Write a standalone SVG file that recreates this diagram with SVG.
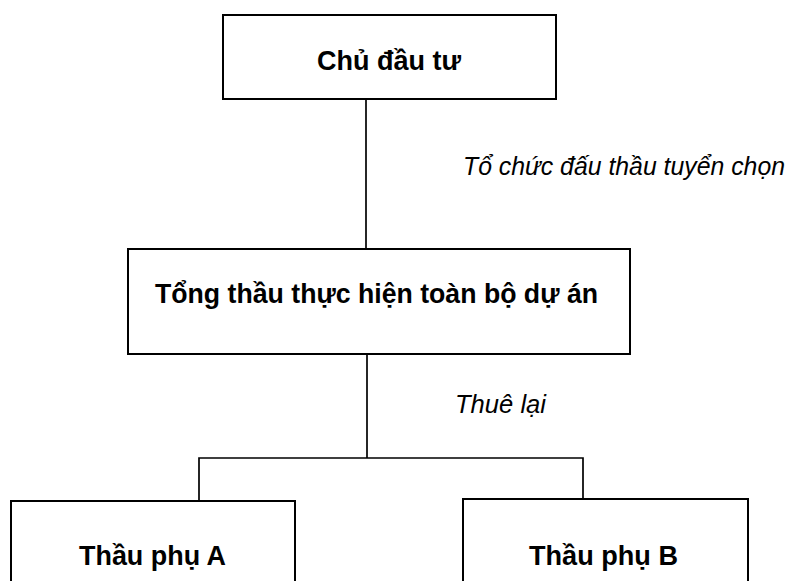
<svg xmlns="http://www.w3.org/2000/svg" width="803" height="581" viewBox="0 0 803 581">
  <style>
    .box { fill: #ffffff; stroke: #000000; stroke-width: 2; }
    .name { font-family: "Liberation Sans", Arial, sans-serif; font-weight: bold; font-size: 28.5px; fill: #000000; text-anchor: middle; }
    .note { font-family: "Liberation Sans", Arial, sans-serif; font-style: italic; font-size: 26px; fill: #000000; }
    .link { fill: none; stroke: #000000; stroke-width: 1.7; }
  </style>
  <rect width="803" height="581" fill="#ffffff"/>

  <!-- connectors -->
  <g id="connectors">
    <line class="link" x1="366" y1="99" x2="366" y2="249"/>
    <line class="link" x1="367" y1="354" x2="367" y2="458"/>
    <polyline class="link" points="199,501 199,458 583,458 583,499"/>
    <text class="note" x="463" y="175" textLength="322" lengthAdjust="spacingAndGlyphs">Tổ chức đấu thầu tuyển chọn</text>
    <text class="note" x="455" y="413" textLength="91" lengthAdjust="spacingAndGlyphs">Thuê lại</text>
  </g>

  <!-- investor -->
  <g id="chu-dau-tu">
    <rect class="box" x="223" y="15" width="333" height="84"/>
    <text class="name" x="389" y="70" textLength="144" lengthAdjust="spacingAndGlyphs">Chủ đầu tư</text>
  </g>

  <!-- general contractor -->
  <g id="tong-thau">
    <rect class="box" x="128" y="249" width="502" height="105"/>
    <text class="name" x="376.5" y="303" textLength="443" lengthAdjust="spacingAndGlyphs">Tổng thầu thực hiện toàn bộ dự án</text>
  </g>

  <!-- subcontractor A -->
  <g id="thau-phu-a">
    <rect class="box" x="11" y="501" width="284" height="100"/>
    <text class="name" x="152.5" y="565" textLength="147" lengthAdjust="spacingAndGlyphs">Thầu phụ A</text>
  </g>

  <!-- subcontractor B -->
  <g id="thau-phu-b">
    <rect class="box" x="463" y="499" width="285" height="100"/>
    <text class="name" x="603.5" y="565" textLength="149" lengthAdjust="spacingAndGlyphs">Thầu phụ B</text>
  </g>
</svg>
